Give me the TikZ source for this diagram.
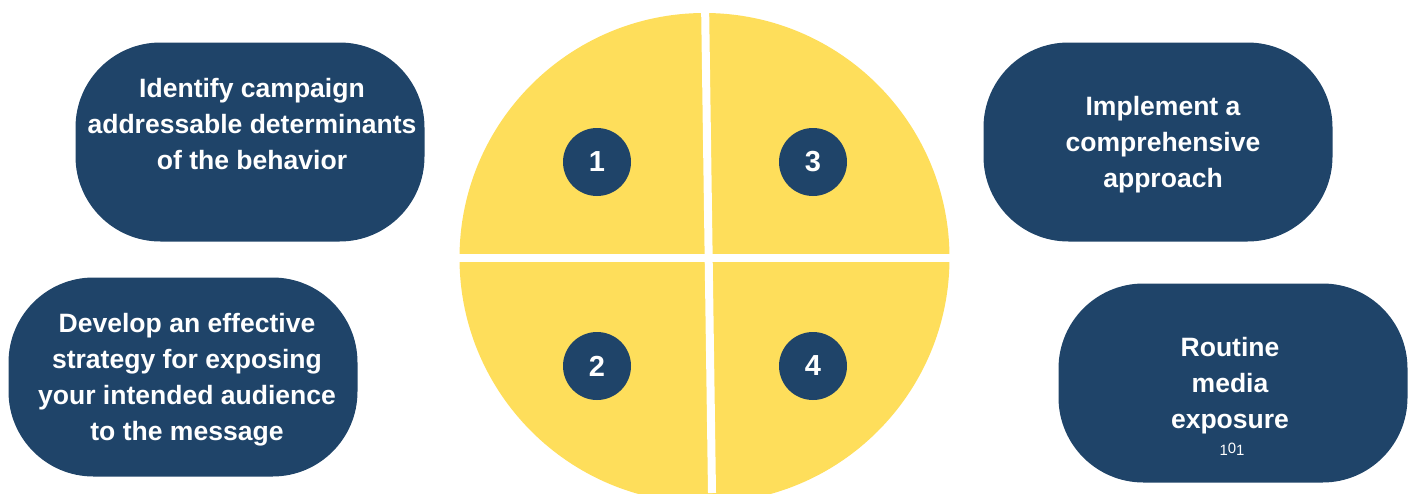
\documentclass[tikz,border=0pt]{standalone}
\usepackage{fontspec}
\setmainfont{Liberation Sans}
\definecolor{navy}{HTML}{1F4469}
\definecolor{sun}{HTML}{FEDE5B}
\begin{document}
\begin{tikzpicture}[
  pill/.style={fill=navy,rounded corners=1.7cm,minimum width=6.98cm,minimum height=3.98cm,inner sep=0pt},
  pilltext/.style={text=white,align=center,font=\bfseries\fontsize{15.1}{20.5}\selectfont},
  num/.style={circle,fill=navy,minimum size=1.36cm,inner sep=0pt,text=white,font=\bfseries\fontsize{16.5}{18}\selectfont},
  gap/.style={white,line width=0.16cm}]
\clip (0,0) rectangle (28.32,9.86);
\fill[sun] (14.09,4.7) circle (4.9);
\draw[gap] (9,4.7) -- (19.2,4.7);
\draw[gap] (14.10,9.86) -- (14.24,0);
\node[num] (q1) at (11.94,6.62) {1};
\node[num] (q3) at (16.26,6.62) {3};
\node[num] (q2) at (11.94,2.54) {2};
\node[num] (q4) at (16.26,2.54) {4};
\node[pill] (determinants) at (5.0,7.02) {};
\node[pill] (strategy) at (3.66,2.32) {};
\node[pill] (approach) at (23.16,7.02) {};
\node[pill] (exposure) at (24.66,2.2) {};
\node[pilltext] (determinantstext) at ([shift={(0.04,0.36)}]determinants.center) {Identify campaign\\addressable determinants\\of the behavior};
\node[pilltext] (strategytext) at ([shift={(0.08,-0.06)}]strategy.center) {Develop an effective\\strategy for exposing\\your intended audience\\to the message};
\node[pilltext] (approachtext) at ([shift={(0.1,-0.06)}]approach.center) {Implement a\\comprehensive\\approach};
\node[pilltext] (exposuretext) at ([shift={(-0.06,-0.06)}]exposure.center) {Routine\\media\\exposure};
\node[text=white,font=\fontsize{8.5}{9}\selectfont] (ref) at (24.64,0.88) {1\raisebox{1.2pt}{0}1};
\end{tikzpicture}
\end{document}
